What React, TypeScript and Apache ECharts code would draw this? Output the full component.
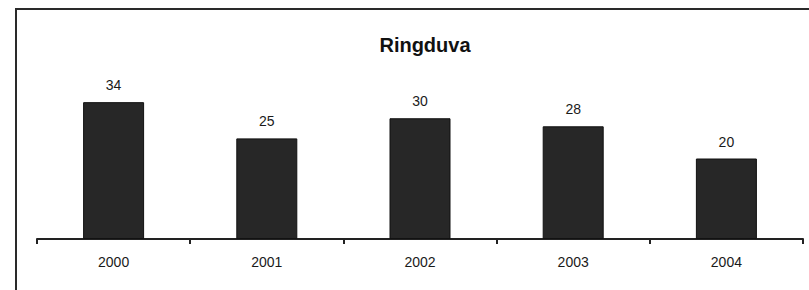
import React, { useEffect, useRef } from "react";
import * as echarts from "echarts";

const titleText = "Ringduva";
const years = ["2000", "2001", "2002", "2003", "2004"];
const counts = [34, 25, 30, 28, 20];
const yMax = 40;

const FONT = "'Liberation Sans', Arial, sans-serif";

export default function App() {
  const ref = useRef<HTMLDivElement>(null);

  useEffect(() => {
    if (!ref.current) return;
    const chart = echarts.init(ref.current, undefined, { renderer: "svg" });
    chart.setOption({
      animation: false,
      backgroundColor: "#ffffff",
      title: {
        text: titleText,
        left: 420,
        top: 30,
        textAlign: "center",
        textStyle: {
          fontFamily: FONT,
          fontWeight: "bold",
          fontSize: 20,
          color: "#111111",
        },
      },
      graphic: [
        {
          type: "rect",
          shape: { x: 16, y: 9, width: 820, height: 320 },
          style: { fill: "none", stroke: "#2a2a2a", lineWidth: 2 },
          silent: true,
        },
      ],
      grid: { left: 37, right: 6, top: 78, bottom: 51 },
      xAxis: {
        type: "category",
        data: years,
        boundaryGap: true,
        axisLine: { show: true, lineStyle: { color: "#222222", width: 2 } },
        axisTick: { show: true, length: 5, alignWithLabel: false, lineStyle: { color: "#222222", width: 2 } },
        axisLabel: {
          margin: 16,
          fontFamily: FONT,
          fontSize: 14,
          color: "#1a1a1a",
        },
      },
      yAxis: {
        type: "value",
        min: 0,
        max: yMax,
        show: false,
        splitLine: { show: false },
      },
      series: [
        {
          type: "bar",
          data: counts,
          barWidth: 61,
          itemStyle: { color: "#272727", borderColor: "#111111", borderWidth: 1 },
          label: {
            show: true,
            position: "top",
            distance: 10,
            fontFamily: FONT,
            fontSize: 14,
            color: "#1a1a1a",
          },
        },
      ],
    });
    return () => chart.dispose();
  }, []);

  return (
    <div
      ref={ref}
      style={{ position: "fixed", left: 0, top: 0, width: 809, height: 290 }}
    />
  );
}
